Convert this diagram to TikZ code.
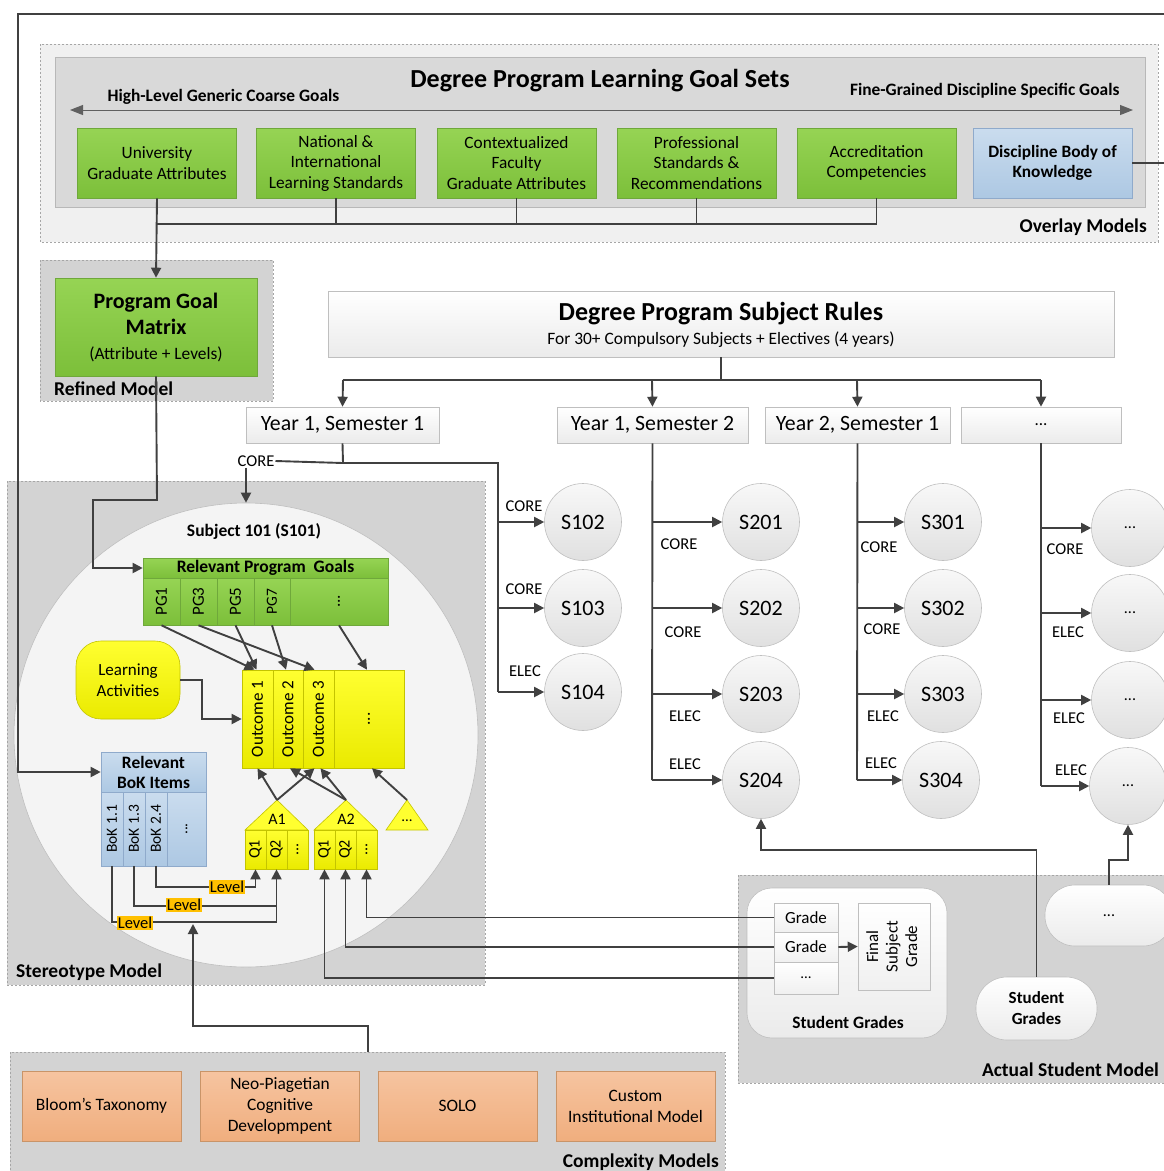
\documentclass[tikz,border=0pt]{standalone}
\usepackage{fontspec}
\setmainfont{Carlito}
\usetikzlibrary{arrows.meta,calc}
\definecolor{lnc}{HTML}{404040}
\definecolor{rimc}{HTML}{A6A6A6}
\definecolor{panelc}{HTML}{D3D3D3}
\definecolor{palec}{HTML}{F0F0F0}
\definecolor{innerc}{HTML}{D9D9D9}
\definecolor{grT}{HTML}{96D454}
\definecolor{grB}{HTML}{7CBF3A}
\definecolor{grD}{HTML}{6FA83B}
\definecolor{blT}{HTML}{CADCEE}
\definecolor{blB}{HTML}{ADC8E3}
\definecolor{blD}{HTML}{8FAACB}
\definecolor{yeT}{HTML}{FFFF30}
\definecolor{yeB}{HTML}{EAEA00}
\definecolor{yeD}{HTML}{C4C400}
\definecolor{orT}{HTML}{F6C4A0}
\definecolor{orB}{HTML}{F0AE7E}
\definecolor{orD}{HTML}{C99468}
\definecolor{lvlc}{HTML}{FFC000}
\definecolor{cirT}{HTML}{F8F8F8}
\definecolor{cirB}{HTML}{E0E0E0}
\definecolor{cirD}{HTML}{BFBFBF}
\definecolor{wbT}{HTML}{FFFFFF}
\definecolor{wbB}{HTML}{EBEBEB}
\definecolor{bigc}{HTML}{F4F4F4}
\definecolor{spanc}{HTML}{606060}
\newcommand\fsz[2]{\fontsize{#1}{#2}\selectfont}
\newcommand\vtext[1]{\rotatebox{90}{#1}}
\begin{document}
\begin{tikzpicture}[x=1pt,y=-1pt,
  ln/.style={draw=lnc,line width=1.9pt},
  arr/.style={ln,-{Triangle[length=10pt,width=10pt]}},
  region/.style={draw=rimc,dash pattern=on 2pt off 2pt,line width=0.6pt,fill=panelc},
  box/.style={rectangle,inner sep=0pt,align=center,line width=0.6pt},
  greenbox/.style={box,top color=grT,bottom color=grB,draw=grD},
  bluebox/.style={box,top color=blT,bottom color=blB,draw=blD},
  yellowbox/.style={box,top color=yeT,bottom color=yeB,draw=yeD},
  orangebox/.style={box,top color=orT,bottom color=orB,draw=orD},
  whitebox/.style={box,top color=wbT,bottom color=wbB,draw=cirD},
  subj/.style={circle,minimum size=77pt,inner sep=0pt,top color=cirT,bottom color=cirB,draw=cirD,line width=0.6pt,font=\fsz{22}{25}},
  tag/.style={font=\fsz{16.5}{19},inner sep=1pt},
  rlabel/.style={font=\fsz{19.5}{22}\bfseries,inner sep=0pt},
  lvl/.style={fill=lvlc,font=\fsz{16.5}{19},inner sep=1.2pt},
  goalbox/.style={greenbox,minimum width=159pt,minimum height=70pt,font=\fsz{17.3}{20.5}},
  yearbox/.style={whitebox,minimum height=36pt,font=\fsz{21.8}{25}},
  cplx/.style={orangebox,minimum width=159pt,minimum height=70pt,font=\fsz{17.4}{21}},
  col/.style={font=\fsz{17}{19}},
]
\useasboundingbox (0,0) rectangle (1164,1171);

% ---------- Overlay models ----------
\path[region,fill=palec] (40,44) rectangle (1158,242);
\path[draw=rimc!80,line width=0.6pt,fill=innerc] (55,57) rectangle (1145,207);
\node[font=\fsz{26}{30}\bfseries] (goalsets) at (600,81) {Degree Program Learning Goal Sets};
\node[font=\fsz{17.4}{20}\bfseries,anchor=west] (coarse) at (104,97) {High-Level Generic Coarse Goals};
\node[font=\fsz{17.4}{20}\bfseries,anchor=east] (fine) at (1123,91) {Fine-Grained Discipline Specific Goals};
\coordinate (spanL) at (70,110);
\coordinate (spanR) at (1133,110);
\draw[draw=spanc,line width=1pt,{Triangle[length=13pt,width=10pt]}-{Triangle[length=13pt,width=10pt]}] (spanL) -- (spanR);

\node[goalbox] (g1) at (157,163) {University\\Graduate Attributes};
\node[goalbox] (g2) at (336,163) {National \&\\International\\Learning Standards};
\node[goalbox] (g3) at (516.5,163) {Contextualized\\Faculty\\Graduate Attributes};
\node[goalbox] (g4) at (696.5,163) {Professional\\Standards \&\\Recommendations};
\node[goalbox] (g5) at (876.5,163) {Accreditation\\Competencies};
\node[bluebox,minimum width=159pt,minimum height=70pt,font=\fsz{17.3}{20.5}\bfseries] (dbok) at (1052.5,163) {Discipline Body of\\Knowledge};
\node[rlabel,anchor=east] (overlay) at (1147,227) {Overlay Models};

% ---------- Refined model ----------
\path[region] (40,260) rectangle (273,401);
\node[greenbox,minimum width=202pt,minimum height=98pt] (pgm) at (156,327) {};
\node[font=\fsz{22}{26}\bfseries,align=center] (pgmtitle) at (156,314) {Program Goal\\Matrix};
\node[font=\fsz{17.4}{20}] (pgmsub) at (156,354) {(Attribute + Levels)};
\node[rlabel,anchor=west] (refined) at (54,389) {Refined Model};

% ---------- Stereotype model ----------
\path[region] (7,481) rectangle (485,985);
\node[circle,minimum size=464pt,inner sep=0pt,fill=bigc,draw=cirD,line width=0.6pt] (s101) at (246,735) {};
\node[font=\fsz{17.5}{20}\bfseries] (s101name) at (254,531) {Subject 101 (S101)};
\node[rlabel,anchor=west] (stereo) at (16,972) {Stereotype Model};

% relevant program goals
\node[greenbox,minimum width=245pt,minimum height=20pt,font=\fsz{17.5}{20}\bfseries] (rpg) at (265.5,568) {Relevant Program\ \ Goals};
\node[greenbox,col,minimum width=37pt,minimum height=47pt] (pg1) at (161.5,601.5) {\vtext{PG1}};
\node[greenbox,col,minimum width=37pt,minimum height=47pt] (pg3) at (198.5,601.5) {\vtext{PG3}};
\node[greenbox,col,minimum width=37pt,minimum height=47pt] (pg5) at (235.5,601.5) {\vtext{PG5}};
\node[greenbox,col,minimum width=36pt,minimum height=47pt,font=\fsz{15.5}{18}] (pg7) at (272,601.5) {\vtext{PG7}};
\node[greenbox,col,minimum width=98pt,minimum height=47pt] (pgd) at (339,601.5) {\vtext{...}};

% learning outcomes
\node[yellowbox,col,minimum width=31pt,minimum height=98pt] (o1) at (257.5,719) {\vtext{Outcome 1}};
\node[yellowbox,col,minimum width=30pt,minimum height=98pt] (o2) at (288,719) {\vtext{Outcome 2}};
\node[yellowbox,col,minimum width=31pt,minimum height=98pt] (o3) at (318.5,719) {\vtext{Outcome 3}};
\node[yellowbox,col,minimum width=70pt,minimum height=98pt] (od) at (369,719) {\vtext{...}};

\node[yellowbox,rounded corners=25pt,minimum width=104pt,minimum height=78pt,font=\fsz{17}{20.5}] (learn) at (128,680) {Learning\\Activities};

% body of knowledge items
\node[bluebox,minimum width=105pt,minimum height=40pt,font=\fsz{17.4}{20}\bfseries] (bokh) at (153.5,772) {Relevant\\BoK Items};
\node[bluebox,minimum width=22pt,minimum height=74pt,font=\fsz{15.5}{18}] (bk1) at (112,829) {\vtext{BoK 1.1}};
\node[bluebox,minimum width=22pt,minimum height=74pt,font=\fsz{15.5}{18}] (bk2) at (134,829) {\vtext{BoK 1.3}};
\node[bluebox,minimum width=22pt,minimum height=74pt,font=\fsz{15.5}{18}] (bk3) at (156,829) {\vtext{BoK 2.4}};
\node[bluebox,minimum width=39pt,minimum height=74pt,font=\fsz{15.5}{18}] (bkd) at (186.5,829) {\vtext{...}};

% assessments
\coordinate (a1top) at (277,800);
\coordinate (a2top) at (346,800);
\coordinate (a3top) at (407,800);
\path[fill=yeT,draw=yeD,line width=0.6pt] (245,830) -- (a1top) -- (308,830) -- cycle;
\path[fill=yeT,draw=yeD,line width=0.6pt] (314,830) -- (a2top) -- (377,830) -- cycle;
\path[fill=yeT,draw=yeD,line width=0.6pt] (386,830) -- (a3top) -- (428,830) -- cycle;
\node[font=\fsz{16}{18}] (a1name) at (277,819) {A1};
\node[font=\fsz{16}{18}] (a2name) at (346,819) {A2};
\node[font=\fsz{15}{18}] (a3name) at (407,821) {...};
\node[yellowbox,minimum width=21pt,minimum height=39pt,font=\fsz{16}{18}] (a1q1) at (255.5,849.5) {\vtext{Q1}};
\node[yellowbox,minimum width=21pt,minimum height=39pt,font=\fsz{16}{18}] (a1q2) at (276.5,849.5) {\vtext{Q2}};
\node[yellowbox,minimum width=21pt,minimum height=39pt,font=\fsz{16}{18}] (a1d) at (297.5,849.5) {\vtext{...}};
\node[yellowbox,minimum width=21pt,minimum height=39pt,font=\fsz{16}{18}] (a2q1) at (324.5,849.5) {\vtext{Q1}};
\node[yellowbox,minimum width=21pt,minimum height=39pt,font=\fsz{16}{18}] (a2q2) at (345.5,849.5) {\vtext{Q2}};
\node[yellowbox,minimum width=21pt,minimum height=39pt,font=\fsz{16}{18}] (a2d) at (366.5,849.5) {\vtext{...}};

% ---------- Subject rules and semesters ----------
\node[whitebox,minimum width=786pt,minimum height=66pt] (rules) at (721,324) {};
\node[font=\fsz{26}{30}\bfseries] (rulestitle) at (721,314) {Degree Program Subject Rules};
\node[font=\fsz{17.4}{20}] (rulessub) at (721,340) {For 30+ Compulsory Subjects + Electives (4 years)};
\node[yearbox,minimum width=193pt] (y11) at (342.5,425) {Year 1, Semester 1};
\node[yearbox,minimum width=191pt] (y12) at (652.5,425) {Year 1, Semester 2};
\node[yearbox,minimum width=185pt] (y21) at (857.5,425) {Year 2, Semester 1};
\node[yearbox,minimum width=160pt,font=\fsz{17}{20}] (ymore) at (1041,425) {...};

\node[subj] (s102) at (583,522) {S102};
\node[subj] (s103) at (583,608) {S103};
\node[subj] (s104) at (583,692) {S104};
\node[subj] (s201) at (761,522) {S201};
\node[subj] (s202) at (761,608) {S202};
\node[subj] (s203) at (761,694) {S203};
\node[subj] (s204) at (761,780) {S204};
\node[subj] (s301) at (943,522) {S301};
\node[subj] (s302) at (943,608) {S302};
\node[subj] (s303) at (943,694) {S303};
\node[subj] (s304) at (941,780) {S304};
\node[subj,font=\fsz{16}{18}] (sx1) at (1130,528) {...};
\node[subj,font=\fsz{16}{18}] (sx2) at (1130,613) {...};
\node[subj,font=\fsz{16}{18}] (sx3) at (1130,700) {...};
\node[subj,font=\fsz{16}{18}] (sx4) at (1128,786) {...};

% ---------- Actual student model ----------
\path[region] (738,875) rectangle (1172,1083);
\node[whitebox,rounded corners=25pt,minimum width=200pt,minimum height=150pt] (sgbox) at (847,963) {};
\node[box,top color=wbT,bottom color=palec,draw=cirD,minimum width=64pt,minimum height=29pt,font=\fsz{17}{19}] (gr1) at (806,917.5) {Grade};
\node[box,top color=wbT,bottom color=palec,draw=cirD,minimum width=64pt,minimum height=30pt,font=\fsz{17}{19}] (gr2) at (806,947) {Grade};
\node[box,top color=wbT,bottom color=palec,draw=cirD,minimum width=64pt,minimum height=32pt,font=\fsz{15}{18}] (grd) at (806,978) {...};
\node[box,top color=wbT,bottom color=palec,draw=cirD,minimum width=72pt,minimum height=87pt,font=\fsz{17}{18}] (final) at (894,946.5)
  {\vtext{\begin{tabular}{@{}c@{}}Final\\[1.5pt]Subject\\[1.5pt]Grade\end{tabular}}};
\node[font=\fsz{17.4}{20}\bfseries] (sgname) at (848,1022) {Student Grades};
\node[whitebox,rounded corners=31pt,minimum width=121pt,minimum height=63pt,font=\fsz{17}{21}\bfseries] (sgpill) at (1036.5,1008.5) {Student\\Grades};
\node[whitebox,rounded corners=30pt,minimum width=128pt,minimum height=61pt,font=\fsz{16}{18}] (morepill) at (1109,915.5) {...};
\node[rlabel,anchor=east] (actual) at (1159,1070) {Actual Student Model};

% ---------- Complexity models ----------
\path[region] (10,1052) rectangle (725,1185);
\coordinate (cxtop) at (368,1052);
\node[cplx] (c1) at (101.5,1106) {Bloom’s Taxonomy};
\node[cplx] (c2) at (280,1106) {Neo-Piagetian\\Cognitive\\Developmpent};
\node[cplx] (c3) at (457.5,1106) {SOLO};
\node[cplx] (c4) at (635.5,1106) {Custom\\Institutional Model};
\node[rlabel,anchor=east] (cxname) at (719,1162) {Complexity Models};

% ================= connectors =================
% goal sets feed the program goal matrix
\draw[ln] (g5.south) -- (876.5,224) -- (157,224);
\draw[ln] (g2.south) -- (336,224);
\draw[ln] (g3.south) -- (516.5,224);
\draw[ln] (g4.south) -- (696.5,224);
\draw[arr] (g1.south) -- (pgm.north);
% body of knowledge loop around the top
\draw[arr] (dbok.east) -- (1166,163) -- (1166,14) -- (18,14) -- (18,772) -- (bokh.west);
% program goal matrix to relevant program goals
\draw[arr] (pgm.south) -- (157,500) -- (93,500) -- (93,568) -- (rpg.west);

% subject rules to semesters
\draw[ln] (rules.south) -- (721,380);
\draw[ln] (343,380) -- (1041,380);
\draw[arr] (343,380) -- (y11.north);
\draw[arr] (652,380) -- (y12.north);
\draw[arr] (857,380) -- (y21.north);
\draw[arr] (1041,380) -- (ymore.north);

% year 1 semester 1
\node[tag] (coreA) at (256,461) {CORE};
\draw[ln] (y11.south) -- (343,463) -- (coreA.east);
\draw[arr] (coreA.south -| s101.north) -- (s101.north);
\draw[ln] (343,463) -- (498,463) -- (498,692);
\draw[arr] (498,522) -- (s102.west);
\draw[arr] (498,608) -- (s103.west);
\draw[arr] (498,692) -- (s104.west);
\node[tag] (t102) at (524,506) {CORE};
\node[tag] (t103) at (524,589) {CORE};
\node[tag] (t104) at (525,671) {ELEC};

% year 1 semester 2
\draw[ln] (y12.south) -- (652,780);
\draw[arr] (652,522) -- (s201.west);
\draw[arr] (652,608) -- (s202.west);
\draw[arr] (652,694) -- (s203.west);
\draw[arr] (652,780) -- (s204.west);
\node[tag] (t201) at (679,544) {CORE};
\node[tag] (t202) at (683,632) {CORE};
\node[tag] (t203) at (685,716) {ELEC};
\node[tag] (t204) at (685,764) {ELEC};

% year 2 semester 1
\draw[ln] (y21.south) -- (857,780);
\draw[arr] (857,522) -- (s301.west);
\draw[arr] (857,608) -- (s302.west);
\draw[arr] (857,694) -- (s303.west);
\draw[arr] (857,780) -- (s304.west);
\node[tag] (t301) at (879,547) {CORE};
\node[tag] (t302) at (882,629) {CORE};
\node[tag] (t303) at (883,716) {ELEC};
\node[tag] (t304) at (881,763) {ELEC};

% later semesters
\draw[ln] (ymore.south) -- (1041,786);
\draw[arr] (1041,528) -- (sx1.west);
\draw[arr] (1041,613) -- (sx2.west);
\draw[arr] (1041,700) -- (sx3.west);
\draw[arr] (1041,786) -- (sx4.west);
\node[tag] (tx1) at (1065,549) {CORE};
\node[tag] (tx2) at (1068,632) {ELEC};
\node[tag] (tx3) at (1069,718) {ELEC};
\node[tag] (tx4) at (1071,770) {ELEC};

% inside subject 101
\draw[arr] (pg1.south) -- ($(o1.north)+(-3,0)$);
\draw[arr] (pg5.south) -- ($(o1.north)+(-1,0)$);
\draw[arr] (pg3.south) -- ($(o3.north)+(-4,0)$);
\draw[arr] (pg7.south) -- ($(o2.north)+(-2,0)$);
\draw[arr] (pgd.south) -- ($(od.north)+(-2,0)$);
\draw[arr] (learn.east) -- (202,680) -- (202,719) -- (o1.west);
\draw[arr] (a1top) -- (o1.south);
\draw[arr] (a1top) -- ($(o3.south)+(-4,0)$);
\draw[arr] (a2top) -- ($(o2.south)+(2,0)$);
\draw[arr] (a2top) -- ($(o3.south)+(2,0)$);
\draw[arr] (a3top) -- ($(od.south)+(3,0)$);

% body of knowledge levels into assessment questions
\draw[arr] (bk3.south) -- (156,887) -- (255.5,887) -- (a1q1.south);
\draw[arr] (bk2.south) -- (134,906) -- (276.5,906) -- (a1q2.south);
\draw[ln] (bk1.south) -- (112,922) -- (276.5,922) -- (276.5,905);
\node[lvl] (lv1) at (227,887) {Level};
\node[lvl] (lv2) at (184,905) {Level};
\node[lvl] (lv3) at (135,923) {Level};
\draw[arr] (cxtop) -- (368,1026) -- (193,1026) -- (193,924);

% grades back to assessment questions
\draw[arr] (gr1.west) -| (a2d.south);
\draw[arr] (gr2.west) -| (a2q2.south);
\draw[arr] (grd.west) -| (a2q1.south);
\draw[arr] (gr2.east) -- (final.west);
\draw[arr] (sgpill.north) -- (1036.5,850) -| (s204.south);
\draw[arr] (morepill.north) -- (1109,860) -| (sx4.south);
\end{tikzpicture}
\end{document}
